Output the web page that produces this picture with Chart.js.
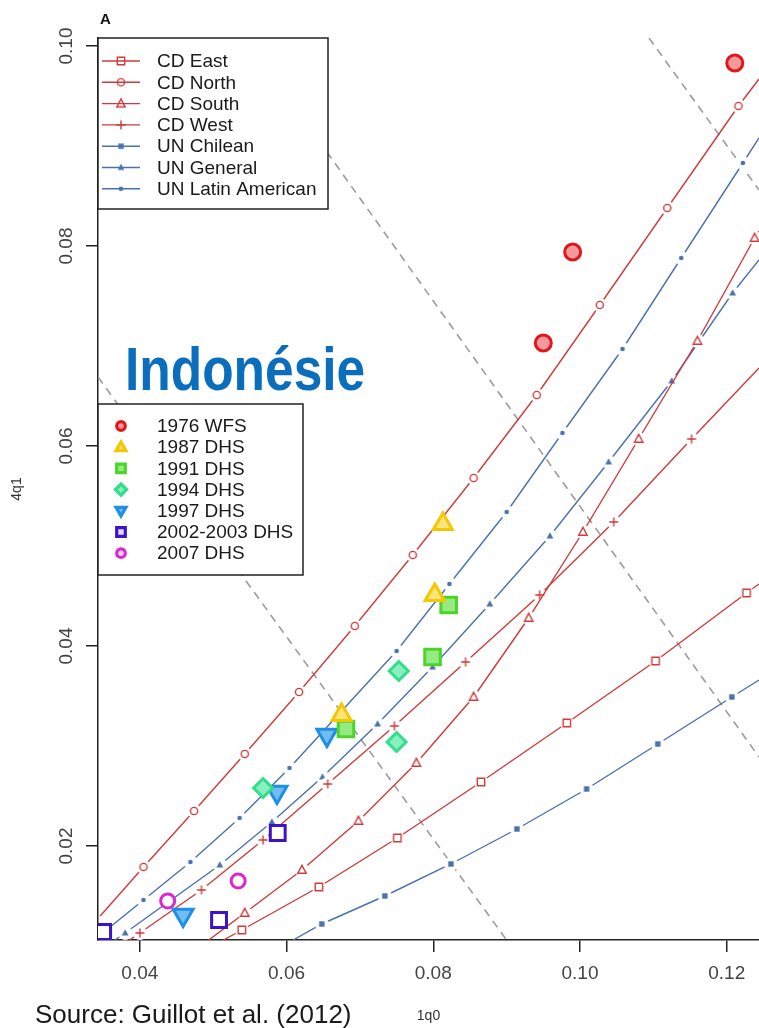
<!DOCTYPE html>
<html>
<head>
<meta charset="utf-8">
<script src="https://cdn.jsdelivr.net/npm/chart.js@4.4.1/dist/chart.umd.min.js"></script>
<style>
  html, body { margin: 0; padding: 0; background: #fff; }
  #wrap { position: relative; width: 759px; height: 1028px; overflow: hidden; }
  #chart { position: absolute; left: 0; top: 0; }
  .note { position: absolute; white-space: nowrap; font-family: "Liberation Sans", Arial, sans-serif; line-height: 1; }
  #panel { left: 100px; top: 11px; font-size: 15px; font-weight: bold; color: #111; }
  #country { left: 125px; top: 338px; font-size: 62px; font-weight: bold; color: #0a6ebd; transform: scaleX(0.83); transform-origin: 0 0; }
  #source { left: 35px; top: 1001px; font-size: 26px; color: #1a1a1a; }
</style>
</head>
<body>
<div id="wrap">
  <canvas id="chart" width="759" height="1028"></canvas>
  <div class="note" id="panel">A</div>
  <div class="note" id="country">Indonésie</div>
  <div class="note" id="source">Source: Guillot et al. (2012)</div>
</div>
<script>
const FONT = '"Liberation Sans", Arial, sans-serif';

const xTicks = [0.04, 0.06, 0.08, 0.10, 0.12];
const yTicks = [0.02, 0.04, 0.06, 0.08, 0.10];

// model life tables (1q0, 4q1). first / last pair = where the curve leaves the frame
const cdEastX = [0.0514, 0.0539, 0.0644, 0.0751, 0.0865, 0.0982, 0.1103, 0.1227, 0.1244];
const cdEastY = [0.0106, 0.0116, 0.0159, 0.0208, 0.0264, 0.0323, 0.0385, 0.0453, 0.0462];
const cdNorthX = [0.0346, 0.0405, 0.0474, 0.0543, 0.0617, 0.0693, 0.0772, 0.0855, 0.0941, 0.1027, 0.1119, 0.1216, 0.1244];
const cdNorthY = [0.0130, 0.0179, 0.0235, 0.0292, 0.0354, 0.0420, 0.0491, 0.0568, 0.0651, 0.0741, 0.0838, 0.0940, 0.0967];
const cdSouthX = [0.0494, 0.0543, 0.0621, 0.0698, 0.0777, 0.0855, 0.0930, 0.1004, 0.1080, 0.1160, 0.1238, 0.1244];
const cdSouthY = [0.0106, 0.0133, 0.0176, 0.0225, 0.0283, 0.0349, 0.0428, 0.0514, 0.0607, 0.0705, 0.0808, 0.0815];
const cdWestX = [0.0386, 0.0400, 0.0484, 0.0568, 0.0656, 0.0747, 0.0844, 0.0945, 0.1046, 0.1152, 0.1244];
const cdWestY = [0.0106, 0.0113, 0.0156, 0.0206, 0.0262, 0.0320, 0.0384, 0.0451, 0.0524, 0.0607, 0.0678];
const unChileanX = [0.0609, 0.0648, 0.0734, 0.0824, 0.0914, 0.1009, 0.1106, 0.1207, 0.1244];
const unChileanY = [0.0106, 0.0122, 0.0150, 0.0182, 0.0217, 0.0257, 0.0302, 0.0349, 0.0366];
const unGeneralX = [0.0366, 0.0380, 0.0509, 0.0580, 0.0649, 0.0724, 0.0799, 0.0877, 0.0959, 0.1039, 0.1125, 0.1208, 0.1244];
const unGeneralY = [0.0106, 0.0113, 0.0181, 0.0224, 0.0269, 0.0322, 0.0379, 0.0442, 0.0510, 0.0584, 0.0665, 0.0753, 0.0786];
const unLatinX = [0.0346, 0.0405, 0.0469, 0.0536, 0.0604, 0.0750, 0.0822, 0.0900, 0.0976, 0.1058, 0.1138, 0.1222, 0.1244];
const unLatinY = [0.0111, 0.0146, 0.0184, 0.0228, 0.0278, 0.0395, 0.0462, 0.0534, 0.0613, 0.0697, 0.0788, 0.0883, 0.0908];

// grey dashed guide lines
const isoAX = [0.1094, 0.1244], isoAY = [0.1008, 0.0856];
const isoBX = [0.0544, 0.1244], isoBY = [0.1008, 0.0289];
const isoCX = [0.0343, 0.0900], isoCY = [0.0669, 0.0106];

// survey estimates
const surveyNames = ['1976 WFS', '1987 DHS', '1991 DHS', '1994 DHS', '1997 DHS', '2002-2003 DHS', '2007 DHS'];
const wfs1976X = [0.0950, 0.0990, 0.1211], wfs1976Y = [0.0703, 0.0794, 0.0983];
const dhs1987X = [0.0675, 0.0802, 0.0813], dhs1987Y = [0.0331, 0.0451, 0.0522];
const dhs1991X = [0.0681, 0.0799, 0.0821], dhs1991Y = [0.0317, 0.0389, 0.0441];
const dhs1994X = [0.0568, 0.0750, 0.0753], dhs1994Y = [0.0258, 0.0304, 0.0375];
const dhs1997X = [0.0459, 0.0587, 0.0655], dhs1997Y = [0.0131, 0.0254, 0.0311];
const dhs2002X = [0.0350, 0.0508, 0.0588], dhs2002Y = [0.0114, 0.0126, 0.0213];
const dhs2007X = [0.0347, 0.0438, 0.0534], dhs2007Y = [0.0109, 0.0145, 0.0165];

const RED = '#cf3b3b', BLUE = '#4a72ad';

function pts(xs, ys) { return xs.map((x, i) => ({ x: x, y: ys[i] })); }

// small R-like marker, white disc behind it so the line breaks around the point
function markerCanvas(kind, color, halo) {
  const c = document.createElement('canvas');
  c.width = 16; c.height = 16;
  const g = c.getContext('2d');
  if (halo) { g.fillStyle = '#fff'; g.beginPath(); g.arc(8, 8, 7, 0, Math.PI * 2); g.fill(); }
  g.strokeStyle = color; g.fillStyle = color; g.lineWidth = 1.4;
  g.beginPath();
  if (kind === 'square') { g.rect(4.3, 4.3, 7.4, 7.4); g.stroke(); }
  else if (kind === 'circle') { g.arc(8, 8, 3.6, 0, Math.PI * 2); g.stroke(); }
  else if (kind === 'triangle') { g.moveTo(8, 3.3); g.lineTo(12.2, 11.2); g.lineTo(3.8, 11.2); g.closePath(); g.stroke(); }
  else if (kind === 'plus') { g.moveTo(3.5, 8); g.lineTo(12.5, 8); g.moveTo(8, 3.5); g.lineTo(8, 12.5); g.stroke(); }
  else if (kind === 'fsquare') { g.rect(5.3, 5.3, 5.4, 5.4); g.fill(); }
  else if (kind === 'ftriangle') { g.moveTo(8, 4.3); g.lineTo(11.4, 10.6); g.lineTo(4.6, 10.6); g.closePath(); g.fill(); }
  else if (kind === 'dot') { g.arc(8, 8, 2.3, 0, Math.PI * 2); g.fill(); }
  return c;
}

const models = [
  { label: 'CD East', xs: cdEastX, ys: cdEastY, color: RED, kind: 'square' },
  { label: 'CD North', xs: cdNorthX, ys: cdNorthY, color: RED, kind: 'circle' },
  { label: 'CD South', xs: cdSouthX, ys: cdSouthY, color: RED, kind: 'triangle' },
  { label: 'CD West', xs: cdWestX, ys: cdWestY, color: RED, kind: 'plus' },
  { label: 'UN Chilean', xs: unChileanX, ys: unChileanY, color: BLUE, kind: 'fsquare' },
  { label: 'UN General', xs: unGeneralX, ys: unGeneralY, color: BLUE, kind: 'ftriangle' },
  { label: 'UN Latin American', xs: unLatinX, ys: unLatinY, color: BLUE, kind: 'dot' }
];

const surveys = [
  { xs: wfs1976X, ys: wfs1976Y, style: 'circle', r: 8, rot: 0, line: '#e3161c', fill: '#f39a9a', mini: 'circle' },
  { xs: dhs1987X, ys: dhs1987Y, style: 'triangle', r: 11, rot: 0, line: '#f3c800', fill: '#f9e47e', mini: 'up' },
  { xs: dhs1991X, ys: dhs1991Y, style: 'rect', r: 11, rot: 0, line: '#4cd42a', fill: '#96ea82', mini: 'square' },
  { xs: dhs1994X, ys: dhs1994Y, style: 'rectRot', r: 9.5, rot: 0, line: '#2fdf8a', fill: '#88efbf', mini: 'diamond' },
  { xs: dhs1997X, ys: dhs1997Y, style: 'triangle', r: 11.5, rot: 180, line: '#1c8fe6', fill: '#74bbf1', mini: 'down' },
  { xs: dhs2002X, ys: dhs2002Y, style: 'rect', r: 10.5, rot: 0, line: '#3b14c9', fill: '#ffffff', mini: 'square' },
  { xs: dhs2007X, ys: dhs2007Y, style: 'circle', r: 7, rot: 0, line: '#e024d0', fill: '#ffffff', mini: 'circle' }
];

const datasets = [];
surveys.forEach((s, i) => {
  datasets.push({
    label: surveyNames[i], data: pts(s.xs, s.ys), showLine: false,
    pointStyle: s.style, pointRadius: s.r, pointRotation: s.rot,
    pointBorderWidth: 3, pointBorderColor: s.line, pointBackgroundColor: s.fill, order: 0
  });
});
models.forEach(m => {
  const last = m.xs.length - 1;
  datasets.push({
    label: m.label, data: pts(m.xs, m.ys), showLine: true,
    borderColor: m.color, borderWidth: 1.4, tension: 0,
    pointStyle: markerCanvas(m.kind, m.color, true),
    pointRadius: c => (c.dataIndex === 0 || c.dataIndex === last) ? 0 : 4,
    order: 1
  });
});
[[isoAX, isoAY], [isoBX, isoBY], [isoCX, isoCY]].forEach(d => {
  datasets.push({
    data: pts(d[0], d[1]), showLine: true, borderColor: '#9c9c9c', borderWidth: 1.6,
    borderDash: [8, 6], pointRadius: 0, order: 2
  });
});

function miniShape(g, kind, x, y, r) {
  g.beginPath();
  if (kind === 'circle') g.arc(x, y, r, 0, Math.PI * 2);
  else if (kind === 'square') g.rect(x - r, y - r, 2 * r, 2 * r);
  else if (kind === 'diamond') { g.moveTo(x, y - r * 1.3); g.lineTo(x + r * 1.3, y); g.lineTo(x, y + r * 1.3); g.lineTo(x - r * 1.3, y); g.closePath(); }
  else if (kind === 'up') { g.moveTo(x, y - r * 1.2); g.lineTo(x + r * 1.15, y + r * 0.8); g.lineTo(x - r * 1.15, y + r * 0.8); g.closePath(); }
  else if (kind === 'down') { g.moveTo(x, y + r * 1.2); g.lineTo(x + r * 1.15, y - r * 0.8); g.lineTo(x - r * 1.15, y - r * 0.8); g.closePath(); }
}

const boxes = {
  id: 'boxes',
  afterDraw(chart) {
    const g = chart.ctx;
    g.save();
    // model legend
    g.fillStyle = '#fff'; g.fillRect(98, 38, 230, 171);
    g.strokeStyle = '#222'; g.lineWidth = 1.5; g.strokeRect(98, 38, 230, 171);
    g.font = '19px ' + FONT; g.textBaseline = 'middle'; g.textAlign = 'left';
    models.forEach((m, i) => {
      const y = 61 + i * 21.3;
      g.strokeStyle = m.color; g.lineWidth = 1.4;
      g.beginPath(); g.moveTo(102, y); g.lineTo(140, y); g.stroke();
      g.drawImage(markerCanvas(m.kind, m.color, false), 113, y - 8);
      g.fillStyle = '#1a1a1a'; g.fillText(m.label, 157, y + 1);
    });
    // survey legend
    g.fillStyle = '#fff'; g.fillRect(98, 404, 205, 171);
    g.strokeStyle = '#222'; g.lineWidth = 1.5; g.strokeRect(98, 404, 205, 171);
    surveys.forEach((s, i) => {
      const y = 426 + i * 21.2;
      miniShape(g, s.mini, 121, y, 4.3);
      g.fillStyle = s.fill === '#ffffff' ? '#e8d8ff' : s.fill; g.fill();
      g.strokeStyle = s.line; g.lineWidth = 3.2; g.stroke();
      g.fillStyle = '#1a1a1a'; g.fillText(surveyNames[i], 157, y + 1);
    });
    // y tick labels, rotated like R
    const ys = chart.scales.y;
    g.font = '19px ' + FONT; g.fillStyle = '#444'; g.textAlign = 'center'; g.textBaseline = 'alphabetic';
    ys.ticks.forEach(t => {
      g.save();
      g.translate(72, ys.getPixelForValue(t.value));
      g.rotate(-Math.PI / 2);
      g.fillText(t.value.toFixed(2), 0, 0);
      g.restore();
    });
    g.restore();
  }
};

new Chart(document.getElementById('chart'), {
  type: 'scatter',
  data: { datasets: datasets },
  plugins: [boxes],
  options: {
    responsive: false,
    animation: false,
    devicePixelRatio: 1,
    layout: { autoPadding: false, padding: { top: 38, right: 0, bottom: 0, left: 0 } },
    plugins: { legend: { display: false }, tooltip: { enabled: false } },
    scales: {
      x: {
        type: 'linear', min: 0.0343, max: 0.1244,
        afterBuildTicks: s => { s.ticks = xTicks.map(v => ({ value: v })); },
        afterFit: s => { s.height = 88; s.paddingLeft = 0; s.paddingRight = 0; },
        ticks: { font: { size: 19, family: FONT }, color: '#444', padding: 10, autoSkip: false, maxRotation: 0, callback: v => v.toFixed(2) },
        grid: { drawOnChartArea: false, drawTicks: true, tickLength: 12, color: '#222', lineWidth: 1.5 },
        border: { display: true, color: '#222', width: 1.5 },
        title: { display: true, text: '1q0', color: '#333', font: { size: 14, family: FONT }, padding: { top: 0, bottom: 3 } }
      },
      y: {
        type: 'linear', min: 0.0106, max: 0.1008,
        afterBuildTicks: s => { s.ticks = yTicks.map(v => ({ value: v })); },
        afterFit: s => { s.width = 98; s.paddingTop = 0; s.paddingBottom = 0; },
        ticks: { display: false },
        grid: { drawOnChartArea: false, drawTicks: true, tickLength: 12, color: '#222', lineWidth: 1.5 },
        border: { display: true, color: '#222', width: 1.5 },
        title: { display: true, text: '4q1', color: '#333', font: { size: 14, family: FONT }, padding: { top: 9, bottom: 0 } }
      }
    }
  }
});
</script>
</body>
</html>
